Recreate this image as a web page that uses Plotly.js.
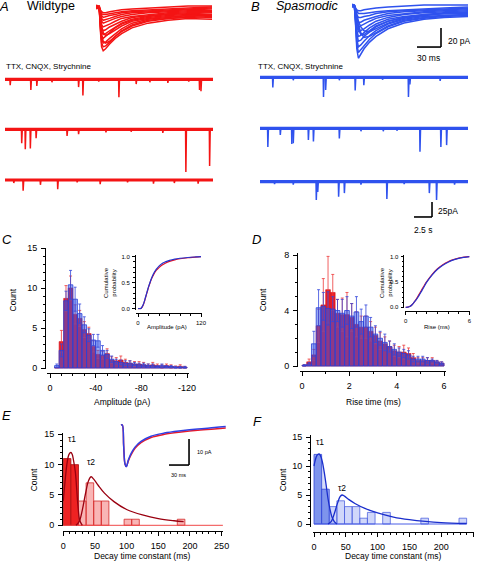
<!DOCTYPE html>
<html><head><meta charset="utf-8">
<script src="https://cdn.plot.ly/plotly-3.0.1.min.js"></script>
<style>html,body{margin:0;padding:0;background:#fff}#chart{width:480px;height:561px}</style>
</head><body><div id="chart"></div>
<script>
// ================= DATA =================
// A / B: averaged mIPSC overlays (time in ms, current in pA)
const avgTimeWT = [0, 4, 5.5, 7, 9, 12, 17, 24, 32, 45, 65, 90, 115, 145];
const avgTracesWT = [
  [0,0,-25,-42,-46,-44,-39,-33,-28,-22,-17,-14,-12,-13],
  [1,0,-22,-38,-42,-41,-37,-31,-26,-20,-15,-12,-11,-10],
  [-1,0,-20,-34,-38,-37,-33,-28,-23,-17,-13,-11,-9,-9],
  [0,-1,-18,-30,-33,-31,-27,-22,-18,-14,-11,-9,-8,-8],
  [1,0,-15,-26,-29,-28,-25,-21,-17,-13,-10,-8,-7,-6],
  [0,0,-13,-22,-25,-24,-21,-18,-15,-11,-9,-7,-6,-5],
  [-1,0,-11,-19,-21,-20,-18,-15,-12,-10,-8,-6,-5,-5],
  [0,0,-9,-15,-17,-16,-14,-12,-10,-8,-6,-5,-4,-4],
  [1,0,-7,-12,-14,-13,-12,-10,-8,-6,-5,-4,-3,-2],
  [0,0,-5,-9,-11,-10,-9,-8,-6,-5,-4,-3,-2,-1],
  [0,1,-4,-7,-8,-8,-7,-6,-5,-4,-3,-2,-1,0],
  [0,0,-12,-30,-36,-38,-36,-31,-25,-19,-14,-12,-10,-11],
  [2,1,-3,-5,-6,-6,-5,-4,-3,-2,-1,0,1,1],
  [-2,-1,-8,-20,-27,-30,-28,-24,-20,-15,-12,-10,-9,-8]
];
const avgTimeSP = [0, 3, 4.5, 6, 8, 11, 15, 22, 30, 45, 65, 90, 115, 145];
const avgTracesSP = [
  [0,0,-20,-45,-55,-51,-45,-38,-32,-24,-18,-14,-12,-11],
  [1,0,-18,-40,-49,-46,-41,-35,-29,-22,-16,-13,-11,-10],
  [0,-1,-15,-35,-43,-41,-37,-31,-26,-19,-14,-11,-10,-9],
  [-1,0,-13,-30,-37,-36,-32,-27,-22,-16,-12,-10,-8,-8],
  [0,0,-11,-26,-32,-31,-28,-23,-19,-14,-11,-9,-7,-6],
  [1,0,-9,-21,-27,-26,-24,-20,-16,-12,-9,-7,-6,-5],
  [0,0,-7,-17,-22,-21,-19,-16,-13,-10,-8,-6,-5,-4],
  [0,1,-6,-13,-17,-17,-15,-13,-11,-8,-6,-5,-4,-3],
  [0,0,-4,-9,-12,-12,-11,-10,-8,-6,-5,-4,-3,-2],
  [0,0,-3,-6,-8,-8,-8,-7,-6,-5,-4,-3,-2,-1],
  [0,0,-5,-12,-20,-28,-33,-32,-28,-21,-15,-12,-10,-9],
  [0,0,-4,-10,-16,-22,-26,-27,-24,-18,-13,-10,-8,-7],
  [2,1,-2,-4,-5,-5,-4,-3,-2,-1,0,1,1,1],
  [-1,0,-6,-15,-24,-30,-30,-26,-21,-16,-12,-9,-8,-7]
];
// Continuous recordings: events as [time s, amplitude pA]
const sweepDuration = 28.9;
const wtSweep1 = [[0.7,10],[3.57,18],[4.4,11],[6.5,5],[10.2,13],[10.8,27],[13,4],[15.8,30],[18.2,8],[20.1,5],[22.6,6],[25.5,4],[27.0,18],[27.2,20]];
const wtSweep2 = [[2.3,23],[2.8,33],[3.5,32],[4.3,15],[8.6,11],[10.2,8],[14,5],[17.5,4],[21.9,6],[25.1,71],[28.4,61]];
const wtSweep3 = [[1.2,5],[2.5,18],[4.9,8],[7.3,15.5],[10,4],[13.2,7],[17,4],[20.6,6],[23.5,5],[26.8,6]];
const spSweep1 = [[1.76,17],[4.6,5],[8.8,33],[9.1,21],[11,5],[13.2,22],[14.4,13],[17,4],[20.6,33],[20.8,12],[25,6]];
const spSweep2 = [[1.07,31],[2.8,11],[4.4,26],[4.6,25],[6.7,19.5],[7.4,22],[11.0,17],[14,5],[17.1,5],[19,4],[22.2,39],[25.1,31],[25.9,28]];
const spSweep3 = [[2,4],[4.6,5],[7.8,30.5],[8.0,17],[10.9,25],[11.7,19],[14,5],[17.6,29],[20,4],[23.5,19],[24.5,30.5],[27,5]];

// C: amplitude histogram (bins of 4 pA)
const ampBins = [-6,-10,-14,-18,-22,-26,-30,-34,-38,-42,-46,-50,-54,-58,-62,-66,-70,-74,-78,-82,-86,-90,-94,-98,-102,-106,-110,-114,-118];
const ampWT    = [0.05,3.3,8.7,10,6.7,6.2,4.8,4.3,2.7,1.7,1.6,1.8,1.0,0.9,1.0,0.7,0.6,0.5,0.5,0.4,0.3,0.4,0.3,0.2,0.3,0.2,0.15,0.2,0.1];
const ampWTerr = [0,1.4,1.6,1.5,1.2,1.0,1.0,0.8,0.7,0.5,0.5,0.6,0.4,0.4,0.5,0.4,0.3,0.3,0.3,0.3,0.2,0.3,0.2,0.2,0.2,0.2,0.1,0.2,0.1];
const ampSP    = [0.3,2.2,8.4,10.4,8.6,6.8,5.4,4.1,3.5,3.4,2.2,1.7,1.1,0.8,0.7,0.6,0.6,0.5,0.4,0.4,0.3,0.3,0.2,0.3,0.2,0.2,0.1,0.1,0.1];
const ampSPerr = [0.2,0.8,1.2,1.8,1.5,1.2,1.0,0.8,0.7,0.8,0.6,0.5,0.4,0.3,0.3,0.3,0.3,0.2,0.2,0.2,0.2,0.2,0.1,0.2,0.1,0.1,0.1,0.1,0.1];
const cumAmpX  = [0,4,6,8,10,12,14,16,18,20,23,26,30,35,40,46,52,60,70,80,95,110,120];
const cumAmpWT = [0,0,0.01,0.03,0.07,0.13,0.2,0.27,0.34,0.41,0.5,0.58,0.66,0.74,0.79,0.84,0.875,0.91,0.94,0.96,0.98,0.99,1.0];
const cumAmpSP = [0,0,0.01,0.04,0.08,0.14,0.21,0.28,0.35,0.42,0.51,0.59,0.68,0.76,0.82,0.87,0.9,0.93,0.955,0.97,0.985,0.995,1.0];

// D: rise-time histogram (bins of 0.2 ms)
const riseBins = [0.1,0.3,0.5,0.7,0.9,1.1,1.3,1.5,1.7,1.9,2.1,2.3,2.5,2.7,2.9,3.1,3.3,3.5,3.7,3.9,4.1,4.3,4.5,4.7,4.9,5.1,5.3,5.5,5.7,5.9];
const riseWT    = [0.05,0.3,0.8,2.9,4.4,5.5,5.3,3.8,3.7,3.7,3.5,3.0,2.8,2.8,2.5,2.2,1.8,1.6,1.4,1.1,1.0,1.0,0.9,0.6,0.4,0.4,0.4,0.4,0.3,0.2];
const riseWTerr = [0.05,0.2,0.4,1.2,1.9,2.4,1.3,1.0,1.2,1.6,1.0,0.9,0.8,0.8,0.7,0.6,0.6,0.5,0.4,0.4,0.4,0.5,0.4,0.3,0.2,0.2,0.2,0.2,0.1,0.1];
const riseSP    = [0.05,0.15,1.6,4.2,4.3,4.15,4.1,4.0,3.8,4.0,3.6,3.9,3.2,3.6,2.8,2.3,2.0,1.7,1.4,1.2,1.0,0.9,0.8,0.5,0.5,0.5,0.4,0.4,0.3,0.2];
const riseSPerr = [0.05,0.1,0.9,1.3,1.0,1.2,0.9,0.8,1.0,1.0,0.9,1.1,0.9,0.8,0.7,0.6,0.5,0.6,0.4,0.4,0.3,0.3,0.3,0.2,0.2,0.2,0.2,0.1,0.1,0.1];
const cumRiseX  = [0,0.2,0.4,0.6,0.8,1,1.25,1.5,1.75,2,2.5,3,3.5,4,4.5,5,5.5,6];
const cumRiseWT = [0,0.005,0.02,0.05,0.1,0.16,0.25,0.34,0.43,0.51,0.65,0.76,0.84,0.9,0.94,0.97,0.99,1.0];
const cumRiseSP = [0,0.003,0.015,0.05,0.1,0.15,0.23,0.32,0.41,0.5,0.64,0.75,0.83,0.89,0.935,0.965,0.985,1.0];

// E / F: decay time constant histograms (bins of 12 ms)
const decayRange = [0, 252];
const decayFastBinsWT = [6, 18];
const decayFastWT     = [11, 10];
const decaySlowBinsWT = [30, 42, 54, 66, 102, 114, 186];
const decaySlowWT     = [4, 7, 4, 4, 1, 1, 1];
const tau1FitXWT = [0,3,6,9,12,14,16,19,21,23,26,30];
const tau1FitYWT = [4,7.5,10.3,11.7,12,11.7,10.8,8.8,6.2,3.4,0.8,0];
const tau2FitXWT = [20,25,30,35,40,44,48,55,65,80,100,125,150,175,190];
const tau2FitYWT = [0,0.6,2.5,5.2,7.4,8,7.6,6.6,5.3,3.9,2.6,1.7,1.1,0.75,0.6];
const decayFastBinsSP = [6, 18];
const decayFastSP     = [12, 6];
const decaySlowBinsSP = [30, 42, 54, 66, 78, 90, 114, 174, 234];
const decaySlowSP     = [3, 4, 3, 3, 1, 2, 2, 1, 1];
const tau1FitXSP = [0,2,4,6,8,10,13,16,19,22,25,28,32,36];
const tau1FitYSP = [10,11,11.7,12,12.1,11.8,10.8,9,6.8,4.4,2.6,1.3,0.4,0];
const tau2FitXSP = [22,27,32,37,41,44,48,55,65,80,100,125,150,175,200,240];
const tau2FitYSP = [0,0.4,1.8,3.6,4.7,5,4.8,4.2,3.5,2.7,1.9,1.2,0.75,0.45,0.25,0.1];
// E inset: averaged traces (ms, pA)
const insetTime = [0,2,4,6,8,11,15,21,30,45,65,90,115,140,157];
const insetSP = [0,0,-8,-15,-16,-13.5,-11,-8.5,-6.3,-4.3,-3.1,-2.2,-1.5,-1.0,-0.6];
const insetWT = [0,0,-8,-15,-16,-13.8,-11.5,-9,-6.8,-4.8,-3.6,-2.7,-2.0,-1.5,-1.2];

// ================= STYLE / LAYOUT =================
const W = 480, H = 561;
const FONT = '"Liberation Sans", Arial, Helvetica, sans-serif';
const RED = '#f41414', BLUE = '#2f52ee';
const xd = (a,b) => [a/W, b/W];
const yd = (top,bot) => [1-bot/H, 1-top/H];
const xr = (a,b,z,ppu) => [(a-z)/ppu, (b-z)/ppu];
const yr = (top,bot,z,ppu) => [(z-bot)/ppu, (z-top)/ppu];

const traces = [];
const skip = {hoverinfo:'skip'};
// A & B overlays
avgTracesWT.forEach(v => traces.push(Object.assign({x:avgTimeWT, y:v, xaxis:'x', yaxis:'y', mode:'lines', line:{color:RED, width:1.5}}, skip)));
avgTracesSP.forEach(v => traces.push(Object.assign({x:avgTimeSP, y:v, xaxis:'x2', yaxis:'y2', mode:'lines', line:{color:BLUE, width:1.5}}, skip)));
// sweeps: thick baseline + thin event spikes
function spikes(events, base){
  const x=[], y=[];
  events.forEach(([t,a]) => { x.push(t-0.02, t+0.02, t+0.1, null); y.push(base, base-a, base, null); });
  return {x, y};
}
const rowBaseWT = [-28.8, -112.2, -196.7], rowBaseSP = [-25.5, -110.5, -199.5];
function addSweeps(rows, bases, xa, ya, color){
  rows.forEach((ev,i) => {
    traces.push(Object.assign({x:[0, sweepDuration], y:[bases[i], bases[i]], xaxis:xa, yaxis:ya, mode:'lines', line:{color, width:3.2}}, skip));
    const s = spikes(ev, bases[i]);
    traces.push(Object.assign({x:s.x, y:s.y, xaxis:xa, yaxis:ya, mode:'lines', connectgaps:false, line:{color, width:1.5}}, skip));
  });
}
addSweeps([wtSweep1, wtSweep2, wtSweep3], rowBaseWT, 'x3', 'y3', RED);
addSweeps([spSweep1, spSweep2, spSweep3], rowBaseSP, 'x4', 'y4', BLUE);

// C histogram
traces.push(Object.assign({type:'bar', x:ampBins, y:ampWT, width:4, xaxis:'x5', yaxis:'y5',
  marker:{color:'#ec1c24', line:{color:'#d41018', width:0.6}},
  error_y:{type:'data', array:ampWTerr, visible:true, color:'#ee3a3a', thickness:0.8, width:1.5}}, skip));
traces.push(Object.assign({type:'bar', x:ampBins, y:ampSP, width:4, xaxis:'x5', yaxis:'y5',
  marker:{color:'rgba(45,85,235,0.5)', line:{color:'#2a40d8', width:0.8}},
  error_y:{type:'data', array:ampSPerr, visible:true, color:'#3348dc', thickness:0.8, width:1.5}}, skip));
traces.push(Object.assign({x:cumAmpX, y:cumAmpWT, xaxis:'x6', yaxis:'y6', mode:'lines', line:{color:'#e0102a', width:1.2, shape:'spline'}}, skip));
traces.push(Object.assign({x:cumAmpX, y:cumAmpSP, xaxis:'x6', yaxis:'y6', mode:'lines', line:{color:'#2234d0', width:1.2, shape:'spline'}}, skip));

// D histogram
traces.push(Object.assign({type:'bar', x:riseBins, y:riseWT, width:0.2, xaxis:'x7', yaxis:'y7',
  marker:{color:'#ec1c24', line:{color:'#d41018', width:0.6}},
  error_y:{type:'data', array:riseWTerr, visible:true, color:'#ee3a3a', thickness:0.8, width:1.5}}, skip));
traces.push(Object.assign({type:'bar', x:riseBins, y:riseSP, width:0.2, xaxis:'x7', yaxis:'y7',
  marker:{color:'rgba(45,85,235,0.5)', line:{color:'#2a40d8', width:0.8}},
  error_y:{type:'data', array:riseSPerr, visible:true, color:'#3348dc', thickness:0.8, width:1.5}}, skip));
traces.push(Object.assign({x:cumRiseX, y:cumRiseWT, xaxis:'x8', yaxis:'y8', mode:'lines', line:{color:'#e0102a', width:1.2, shape:'spline'}}, skip));
traces.push(Object.assign({x:cumRiseX, y:cumRiseSP, xaxis:'x8', yaxis:'y8', mode:'lines', line:{color:'#2234d0', width:1.2, shape:'spline'}}, skip));

// E histogram
traces.push(Object.assign({type:'bar', x:decayFastBinsWT, y:decayFastWT, width:12, xaxis:'x9', yaxis:'y9',
  marker:{color:'#ee2222', line:{color:'#a81010', width:0.8}}}, skip));
traces.push(Object.assign({type:'bar', x:decaySlowBinsWT, y:decaySlowWT, width:12, xaxis:'x9', yaxis:'y9',
  marker:{color:'rgba(240,60,60,0.38)', line:{color:'#d42a2a', width:0.8}}}, skip));
traces.push(Object.assign({x:decayRange, y:[0,0], xaxis:'x9', yaxis:'y9', mode:'lines', line:{color:'#f04848', width:1}}, skip));
traces.push(Object.assign({x:tau1FitXWT, y:tau1FitYWT, xaxis:'x9', yaxis:'y9', mode:'lines', line:{color:'#9a0010', width:1.3, shape:'spline'}}, skip));
traces.push(Object.assign({x:tau2FitXWT, y:tau2FitYWT, xaxis:'x9', yaxis:'y9', mode:'lines', line:{color:'#9a0010', width:1.3, shape:'spline'}}, skip));
traces.push(Object.assign({x:insetTime, y:insetWT, xaxis:'x10', yaxis:'y10', mode:'lines', line:{color:'#e81a2a', width:1.5, shape:'spline'}}, skip));
traces.push(Object.assign({x:insetTime, y:insetSP, xaxis:'x10', yaxis:'y10', mode:'lines', line:{color:'#3040e4', width:1.5, shape:'spline'}}, skip));

// F histogram
traces.push(Object.assign({type:'bar', x:decayFastBinsSP, y:decayFastSP, width:12, xaxis:'x11', yaxis:'y11',
  marker:{color:'rgba(110,135,235,0.75)', line:{color:'#3548d8', width:0.8}}}, skip));
traces.push(Object.assign({type:'bar', x:decaySlowBinsSP, y:decaySlowSP, width:12, xaxis:'x11', yaxis:'y11',
  marker:{color:'rgba(120,140,240,0.35)', line:{color:'#5064e0', width:0.8}}}, skip));
traces.push(Object.assign({x:[decayRange[0], 240], y:[0,0], xaxis:'x11', yaxis:'y11', mode:'lines', line:{color:'#4a5ee6', width:1}}, skip));
traces.push(Object.assign({x:tau1FitXSP, y:tau1FitYSP, xaxis:'x11', yaxis:'y11', mode:'lines', fill:'tozeroy', fillcolor:'rgba(40,70,220,0.18)', line:{color:'#1a2ecc', width:1.3, shape:'spline'}}, skip));
traces.push(Object.assign({x:tau2FitXSP, y:tau2FitYSP, xaxis:'x11', yaxis:'y11', mode:'lines', line:{color:'#1a2ecc', width:1.3, shape:'spline'}}, skip));

// ---------- axes ----------
function ax(o){
  return Object.assign({showline:true, linecolor:'#000', linewidth:1, ticks:'outside', ticklen:4, tickwidth:1,
    tickcolor:'#000', showgrid:false, zeroline:false, fixedrange:true, ticklabelstandoff:2,
    tickfont:{family:FONT, size:9, color:'#000'}}, o);
}
function minor(d, len){ return {tickmode:'linear', tick0:0, dtick:d, ticks:'outside', ticklen:len||2, tickwidth:1, tickcolor:'#000', showgrid:false}; }
function hid(o){ return Object.assign({visible:false, showgrid:false, zeroline:false, fixedrange:true}, o); }
function inset(o){ return ax(Object.assign({ticklen:2.5, tickfont:{family:FONT, size:6, color:'#000'}, ticklabelstandoff:1}, o)); }

const layout = {
  width:W, height:H, margin:{l:0,r:0,t:0,b:0}, showlegend:false, barmode:'overlay', bargap:0,
  paper_bgcolor:'#fff', plot_bgcolor:'rgba(0,0,0,0)', font:{family:FONT, color:'#000'},
  xaxis: hid({domain:xd(96,214), range:xr(96,214,96,0.8), anchor:'y'}),
  yaxis: hid({domain:yd(0,58), range:yr(0,58,7,0.95), anchor:'x'}),
  xaxis2: hid({domain:xd(352,470), range:xr(352,470,352,0.8), anchor:'y2'}),
  yaxis2: hid({domain:yd(0,60), range:yr(0,60,6,0.95), anchor:'x2'}),
  xaxis3: hid({domain:xd(5,213), range:xr(5,213,5,7.2), anchor:'y3'}),
  yaxis3: hid({domain:yd(62,220), range:yr(62,220,62,0.6), anchor:'x3'}),
  xaxis4: hid({domain:xd(260,468), range:xr(260,468,260,7.2), anchor:'y4'}),
  yaxis4: hid({domain:yd(62,220), range:yr(62,220,62,0.6), anchor:'x4'}),
  // C
  xaxis5: ax({domain:xd(47,189), range:xr(47,189,50,-1.142), anchor:'free', position:1-373/H,
    tickmode:'array', tickvals:[0,-40,-80,-120], ticktext:['0','-40','-80','-120'], minor:minor(10)}),
  yaxis5: ax({domain:yd(248,369), range:yr(248,369,368,8), anchor:'free', position:45/W,
    tickmode:'linear', tick0:0, dtick:5, minor:minor(1)}),
  xaxis6: inset({domain:xd(136,202), range:xr(136,202,138,0.525), anchor:'free', position:1-313.3/H,
    tickmode:'array', tickvals:[0,120], ticktext:['0','120'], minor:minor(20,1.5)}),
  yaxis6: inset({domain:yd(255,309.5), range:yr(255,309.5,308.7,52), anchor:'free', position:134.5/W,
    tickmode:'array', tickvals:[0,0.5,1], ticktext:['0.0','0.5','1.0'], minor:minor(0.1,1.5)}),
  // D
  xaxis7: ax({domain:xd(300,446), range:xr(300,446,302,23.67), anchor:'free', position:1-371/H,
    tickmode:'linear', tick0:0, dtick:2, minor:minor(1)}),
  yaxis7: ax({domain:yd(253,367), range:yr(253,367,366,13.875), anchor:'free', position:297/W,
    tickmode:'linear', tick0:0, dtick:4, minor:minor(1)}),
  xaxis8: inset({domain:xd(405,470), range:xr(405,470,405.7,10.6), anchor:'free', position:1-311/H,
    tickmode:'array', tickvals:[0,6], ticktext:['0','6'], minor:minor(1,1.5)}),
  yaxis8: inset({domain:yd(255,308), range:yr(255,308,307.3,50.7), anchor:'free', position:403/W,
    tickmode:'array', tickvals:[0,0.5,1], ticktext:['0.0','0.5','1.0'], minor:minor(0.1,1.5)}),
  // E
  xaxis9: ax({domain:xd(63,223), range:xr(63,223,63.3,0.6333), anchor:'free', position:1-531/H,
    tickmode:'linear', tick0:0, dtick:50, minor:minor(10)}),
  yaxis9: ax({domain:yd(433,526), range:yr(433,526,525.3,6.067), anchor:'free', position:62/W,
    tickmode:'linear', tick0:0, dtick:5, minor:minor(1)}),
  xaxis10: hid({domain:xd(118,230), range:xr(118,230,121,0.667), anchor:'y10'}),
  yaxis10: hid({domain:yd(418,470), range:yr(418,470,425,2.6), anchor:'x10'}),
  // F
  xaxis11: ax({domain:xd(313,474), range:xr(313,474,314,0.636), anchor:'free', position:1-531.7/H,
    tickmode:'linear', tick0:0, dtick:50, minor:minor(10)}),
  yaxis11: ax({domain:yd(435,527), range:yr(435,527,524,5.8), anchor:'free', position:310/W,
    tickmode:'linear', tick0:0, dtick:5, minor:minor(1)}),
  shapes:[], annotations:[]
};

// scale bars (lengths in data units)
function scaleBar(xa, ya, cx, cy, lenX, lenY){
  const l = {color:'#000', width:1.6};
  layout.shapes.push({type:'line', xref:xa, yref:ya, x0:cx-lenX, x1:cx, y0:cy, y1:cy, line:l});
  layout.shapes.push({type:'line', xref:xa, yref:ya, x0:cx, x1:cx, y0:cy, y1:cy+lenY, line:l});
}
scaleBar('x2','y2', 111.25, -43.2, 30, 20);   // 30 ms, 20 pA
scaleBar('x4','y4', 23.89, -258.3, 2.5, 25);  // 2.5 s, 25 pA
scaleBar('x10','y10', 102, -15.4, 30, 10);    // 30 ms, 10 pA

function ann(text, x, y, size, o){
  layout.annotations.push(Object.assign({text, x:x/W, y:1-y/H, xref:'paper', yref:'paper', showarrow:false,
    xanchor:'center', yanchor:'middle', borderpad:0, font:{family:FONT, size, color:'#000'}}, o||{}));
}
// panel letters & titles
ann('<i>A</i>', 4, 6, 13);
ann('Wildtype', 26, 6, 12.5, {xanchor:'left'});
ann('<i>B</i>', 255, 6, 13);
ann('<i>Spasmodic</i>', 275, 6, 12.5, {xanchor:'left'});
ann('TTX, CNQX, Strychnine', 5, 66.7, 8, {xanchor:'left'});
ann('TTX, CNQX, Strychnine', 257, 66.7, 8, {xanchor:'left'});
ann('20 pA', 447, 40.7, 8.5, {xanchor:'left'});
ann('30 ms', 428, 58.3, 8.5);
ann('25pA', 436.5, 210.7, 8.5, {xanchor:'left'});
ann('2.5 s', 423, 230, 8.5);
ann('<i>C</i>', 7, 240, 13);
ann('<i>D</i>', 256, 240, 13);
ann('<i>E</i>', 6, 415, 13);
ann('<i>F</i>', 257, 421, 13);
// axis titles
ann('Count', 12.5, 300, 8.5, {textangle:-90});
ann('Amplitude (pA)', 122, 401.7, 8.5);
ann('Cumulative<br>probability', 110, 283, 6, {textangle:-90});
ann('Amplitude (pA)', 167.3, 327.3, 6);
ann('Count', 263.3, 300, 8.5, {textangle:-90});
ann('Rise time (ms)', 373.3, 401.7, 8.5);
ann('Cumulative<br>probability', 386, 283, 6, {textangle:-90});
ann('Rise (ms)', 436.7, 327.3, 6);
ann('Count', 34.3, 480, 8.5, {textangle:-90});
ann('Decay time constant (ms)', 142.3, 555.5, 8.5);
ann('Count', 283.3, 480, 8.5, {textangle:-90});
ann('Decay time constant (ms)', 393.3, 555.5, 8.5);
ann('τ1', 71.7, 439.3, 8.5);
ann('τ2', 90.7, 461.7, 8.5);
ann('τ1', 320, 442, 8.5);
ann('τ2', 341.7, 488.3, 8.5);
ann('10 pA', 196, 452.3, 5.5, {xanchor:'left'});
ann('30 ms', 178.3, 475, 5.5);

Plotly.newPlot('chart', traces, layout, {staticPlot:true, displayModeBar:false});
</script></body></html>
